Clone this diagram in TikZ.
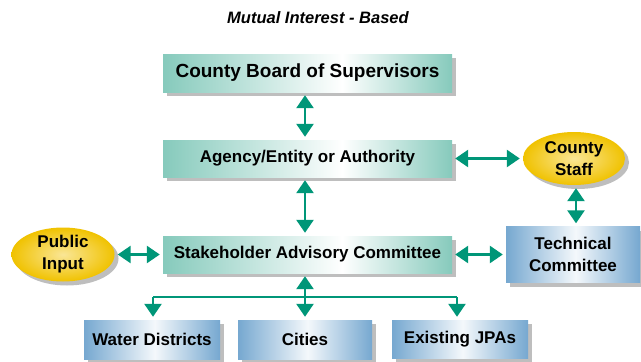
\documentclass[tikz,border=0pt]{standalone}
\usepackage{fontspec}
\setmainfont{Liberation Sans}
\usetikzlibrary{arrows.meta,shapes.geometric,shadows}
\definecolor{tealA}{RGB}{134,202,188}
\definecolor{blueA}{RGB}{118,168,208}
\definecolor{yelOut}{RGB}{240,194,0}
\definecolor{yelIn}{RGB}{250,230,150}
\definecolor{arrC}{RGB}{0,150,120}
\definecolor{shadC}{RGB}{190,190,190}
\pgfdeclarehorizontalshading{tealsh}{100bp}{color(0bp)=(tealA); color(25bp)=(tealA); color(56bp)=(white); color(75bp)=(tealA); color(100bp)=(tealA)}
\pgfdeclarehorizontalshading{bluesh}{100bp}{color(0bp)=(blueA); color(25bp)=(blueA); color(51bp)=(white!92!blueA); color(75bp)=(blueA); color(100bp)=(blueA)}
\begin{document}
\begin{tikzpicture}[x=1pt,y=-1pt,
  shad/.style={drop shadow={shadow xshift=4pt,shadow yshift=-4pt,fill=shadC,opacity=1}},
  tbox/.style={rectangle,inner sep=0pt,shading=tealsh,shad,font=\bfseries\fontsize{17}{20}\selectfont},
  bbox/.style={rectangle,inner sep=0pt,shading=bluesh,shad,align=center,font=\bfseries\fontsize{17}{22}\selectfont},
  ybox/.style={ellipse,inner sep=0pt,inner color=yelIn,outer color=yelOut,shad,align=center,font=\bfseries\fontsize{17}{22}\selectfont},
  arr/.style={draw=arrC,line width=2.6pt,{Triangle[width=17pt,length=13pt,fill=arrC]}-{Triangle[width=17pt,length=13pt,fill=arrC]},shorten <=3pt,shorten >=3pt},
  arr1/.style={draw=arrC,line width=2.6pt,-{Triangle[width=17pt,length=13pt,fill=arrC]},shorten >=3pt}]
\useasboundingbox (0,0) rectangle (641,362);
\node[font=\bfseries\itshape\fontsize{16.5}{20}\selectfont] (title) at (318,18) {Mutual Interest - Based};
\node[tbox,minimum width=289pt,minimum height=38pt,font=\bfseries\fontsize{19}{22}\selectfont] (cb) at (307.5,73) {County Board of Supervisors};
\node[tbox,minimum width=289pt,minimum height=37pt] (ag) at (307.5,158.5) {Agency/Entity or Authority};
\node[tbox,minimum width=289pt,minimum height=37pt] (sk) at (307.5,254.5) {Stakeholder Advisory Committee};
\node[ybox,minimum width=103pt,minimum height=54pt] (pi) at (63,254.5) {Public\\Input};
\node[ybox,minimum width=102pt,minimum height=53pt] (cs) at (574,158.5) {County\\Staff};
\node[bbox,minimum width=134pt,minimum height=56pt] (tc) at (573,254.5) {Technical\\Committee};
\node[bbox,minimum width=136pt,minimum height=39pt] (wd) at (152,339.5) {Water Districts};
\node[bbox,minimum width=134pt,minimum height=39pt] (ci) at (305,339.5) {Cities};
\node[bbox,minimum width=136pt,minimum height=38pt] (jp) at (460,339) {Existing JPAs};
\coordinate (wl) at (153,297);
\coordinate (el) at (457,297);
\draw[arr] (cb.south -| ci.north) -- (ag.north -| ci.north);
\draw[arr] (ag.south -| ci.north) -- (sk.north -| ci.north);
\draw[arr] (sk.south -| ci.north) -- (ci.north);
\draw[arr] (pi.east) -- (sk.west);
\draw[arr] (ag.east) -- (cs.west);
\draw[arr] (cs.south -| 576,0) -- (tc.north -| 576,0);
\draw[arr] (sk.east) -- (tc.west);
\draw[draw=arrC,line width=2.6pt] (wl) -- (el);
\draw[arr1] (wl) -- (wd.north -| wl);
\draw[arr1] (el) -- (jp.north -| el);
\end{tikzpicture}
\end{document}
